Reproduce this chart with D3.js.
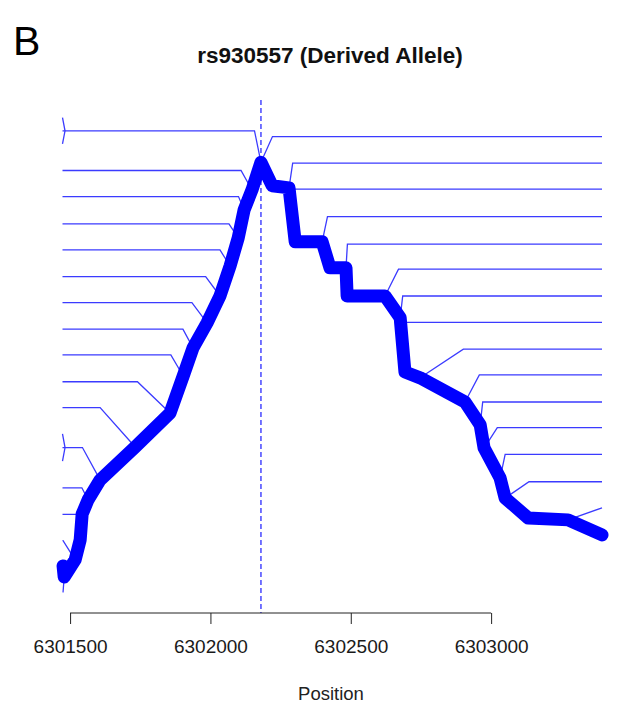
<!DOCTYPE html>
<html>
<head>
<meta charset="utf-8">
<script src="https://cdn.jsdelivr.net/npm/d3@7"></script>
<style>
  body { margin: 0; background: #fff; }
  svg { display: block; font-family: "Liberation Sans", Arial, sans-serif; }
</style>
</head>
<body>
<div id="chart"></div>
<script>
// core SNP and plotted range (bp)
const corePos = 6302180;
const xLimits = [6301473, 6303395];
const tickValues = [6301500, 6302000, 6302500, 6303000];

// main haplotype path: [position, level]
const mainPath = [
  [6301475, 1.79], [6301479, 1.37], [6301518, 2.02], [6301536, 2.78],
  [6301543, 3.76], [6301564, 4.30], [6301607, 5.06], [6301732, 6.31],
  [6301856, 7.60], [6301903, 9.01], [6301938, 10.08], [6301988, 11.03],
  [6302034, 12.05], [6302070, 13.19], [6302099, 14.26], [6302120, 15.32],
  [6302148, 16.08], [6302180, 17.13],
  [6302220, 16.24], [6302280, 16.16], [6302302, 14.11], [6302398, 14.11],
  [6302426, 13.12], [6302483, 13.12], [6302487, 12.05], [6302622, 12.05],
  [6302676, 11.22], [6302693, 9.16], [6302747, 8.94], [6302907, 8.02],
  [6302961, 7.15], [6302975, 6.27], [6303032, 5.13], [6303050, 4.37],
  [6303132, 3.61], [6303274, 3.54], [6303395, 2.97]
];

// branches leaving to the left: node on path, elbow position, leaf level
const leftNode  = [6302180, 6302148, 6302120, 6302099, 6302070, 6302034, 6301988, 6301938, 6301903, 6301856, 6301732, 6301607, 6301564, 6301543, 6301518, 6301479];
const leftNodeY = [17.13, 16.08, 15.32, 14.26, 13.19, 12.05, 11.03, 10.08, 9.01, 7.60, 6.31, 5.06, 4.30, 3.76, 2.02, 1.37];
const leftElbow = [6302157, 6302109, 6302100, 6302066, 6302034, 6301983, 6301934, 6301902, 6301859, 6301740, 6301607, 6301544, 6301542, 6301543, 6301475, 6301475];
const leftLevel = [18.33, 16.82, 15.83, 14.79, 13.80, 12.79, 11.80, 10.79, 9.81, 8.79, 7.81, 6.29, 4.76, 3.75, 2.75, 0.80];

// branches leaving to the right
const rightNode  = [6302180, 6302280, 6302280, 6302398, 6302483, 6302622, 6302676, 6302676, 6302747, 6302907, 6302961, 6302975, 6303032, 6303050, 6303274];
const rightNodeY = [17.13, 16.16, 16.16, 14.11, 13.12, 12.05, 11.22, 11.22, 8.94, 8.02, 7.15, 6.27, 5.13, 4.37, 3.54];
const rightElbow = [6302221, 6302293, 6302280, 6302417, 6302488, 6302670, 6302685, 6302676, 6302901, 6302958, 6302970, 6303022, 6303050, 6303135, 6303395];
const rightLevel = [18.11, 17.10, 16.11, 15.07, 14.02, 13.07, 12.05, 11.05, 10.03, 9.05, 8.02, 7.05, 6.03, 4.99, 4.00];

// small splits right at the left edge: [leaf level, spread]
const edgeSplits = [[18.33, 0.5], [6.29, 0.52]];
const edgeSplitStart = 6301482;

const width = 618, height = 709;
const svg = d3.select('#chart').append('svg')
  .attr('width', width)
  .attr('height', height);

const x = d3.scaleLinear().domain(xLimits).range([62.5, 602]);
const y = d3.scaleLinear().domain([0, 19.5]).range([613, 100]);

const line = d3.line().x(d => x(d[0])).y(d => y(d[1]));
const thin = '#3b3bff';

// left branches
const leftData = leftNode.map((n, i) => {
  const pts = [[n, leftNodeY[i]], [leftElbow[i], leftLevel[i]]];
  if (leftElbow[i] > xLimits[0]) pts.push([xLimits[0], leftLevel[i]]);
  return pts;
});
// right branches
const rightData = rightNode.map((n, i) => {
  const pts = [[n, rightNodeY[i]], [rightElbow[i], rightLevel[i]]];
  if (rightElbow[i] < xLimits[1]) pts.push([xLimits[1], rightLevel[i]]);
  return pts;
});

svg.append('g')
  .selectAll('path')
  .data(leftData.concat(rightData))
  .enter()
    .append('path')
    .attr('d', line)
    .attr('fill', 'none')
    .attr('stroke', thin)
    .attr('stroke-width', 1.3);

svg.append('g')
  .selectAll('path')
  .data(edgeSplits)
  .enter()
    .append('path')
    .attr('d', d => line([[xLimits[0], d[0] + d[1]], [edgeSplitStart, d[0]], [xLimits[0], d[0] - d[1]]]))
    .attr('fill', 'none')
    .attr('stroke', thin)
    .attr('stroke-width', 1.3);

// core SNP marker
svg.append('line')
  .attr('x1', x(corePos)).attr('x2', x(corePos))
  .attr('y1', y(19.5)).attr('y2', y(0))
  .attr('stroke', thin)
  .attr('stroke-width', 1.4)
  .attr('stroke-dasharray', '5,3');

// main haplotype
svg.append('path')
  .attr('d', line(mainPath))
  .attr('fill', 'none')
  .attr('stroke', '#0000ff')
  .attr('stroke-width', 13)
  .attr('stroke-linecap', 'round')
  .attr('stroke-linejoin', 'round');

// axis
const axis = svg.append('g')
  .attr('transform', `translate(0,${y(0)})`)
  .call(d3.axisBottom(x).tickValues(tickValues).tickFormat(d3.format('d'))
    .tickSize(11).tickPadding(16));
axis.select('.domain').remove();
axis.append('line')
  .attr('x1', x(tickValues[0])).attr('x2', x(tickValues[tickValues.length - 1]))
  .attr('stroke', '#222');
axis.selectAll('.tick line').attr('stroke', '#222');
axis.selectAll('.tick text')
  .attr('fill', '#1a1a1a')
  .style('font-size', '19px')
  .style('font-family', '"Liberation Sans", Arial, sans-serif');

svg.append('text')
  .attr('x', 331).attr('y', 700)
  .attr('text-anchor', 'middle')
  .attr('fill', '#222')
  .style('font-size', '18.5px')
  .text('Position');

svg.append('text')
  .attr('x', 330).attr('y', 63)
  .attr('text-anchor', 'middle')
  .attr('fill', '#111')
  .style('font-size', '22.5px')
  .style('font-weight', 'bold')
  .text('rs930557 (Derived Allele)');

svg.append('text')
  .attr('x', 13).attr('y', 55)
  .attr('fill', '#000')
  .style('font-size', '41px')
  .text('B');
</script>
</body>
</html>
